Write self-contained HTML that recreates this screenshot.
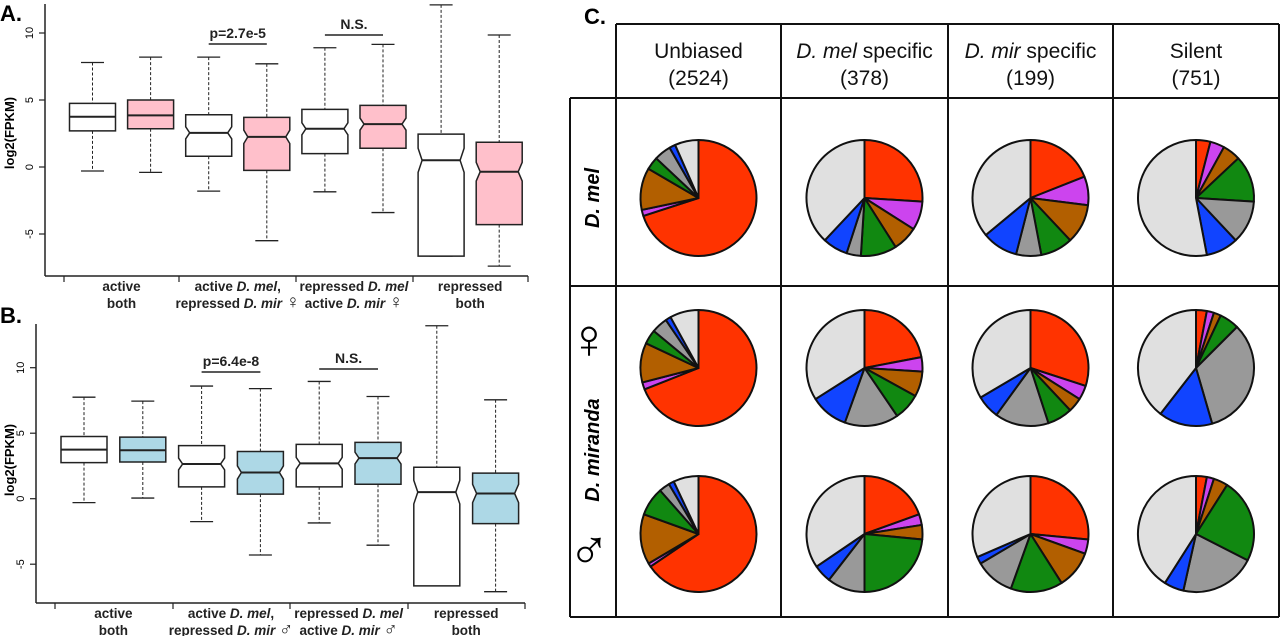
<!DOCTYPE html>
<html><head><meta charset="utf-8">
<style>
html,body{margin:0;padding:0;background:#fff;}
svg{display:block;font-family:"Liberation Sans",sans-serif;}
</style></head>
<body>
<svg id="fig" width="1280" height="636" viewBox="0 0 1280 636" xmlns="http://www.w3.org/2000/svg">
  <text x="0" y="21" font-size="22" font-weight="bold">A.</text>
  <text x="0" y="323" font-size="22" font-weight="bold">B.</text>
  <text x="584" y="24" font-size="22" font-weight="bold">C.</text>
  <g id="panelA"></g>
  <g id="panelB"></g>
  <g id="panelC"></g>
</svg>
<script>
// ---------- Box plot data ----------
const groupLabels1 = ["active", "active D. mel,", "repressed D. mel", "repressed"];
const groupLabelsA2 = ["both", "repressed D. mir \u2640", "active D. mir \u2640", "both"];
const groupLabelsB2 = ["both", "repressed D. mir \u2642", "active D. mir \u2642", "both"];
const yTicks = [-5, 0, 5, 10];
// A (female)
const aHigh = [7.8, 8.2, 8.2, 7.7, 8.9, 9.15, 12.1, 9.85];
const aQ3   = [4.75, 5.0, 3.9, 3.7, 4.3, 4.6, 2.45, 1.85];
const aMed  = [3.75, 3.85, 2.55, 2.25, 2.85, 3.2, 0.5, -0.35];
const aQ1   = [2.7, 2.85, 0.8, -0.25, 1.0, 1.4, -6.65, -4.3];
const aLow  = [-0.3, -0.4, -1.8, -5.5, -1.85, -3.4, -6.65, -7.4];
const aNotch = [0.05, 0.05, 0.45, 0.5, 0.45, 0.45, 0.9, 0.7];
// B (male)
const bHigh = [7.75, 7.45, 8.6, 8.4, 8.95, 7.8, 13.2, 7.55];
const bQ3   = [4.75, 4.7, 4.05, 3.6, 4.15, 4.3, 2.4, 1.95];
const bMed  = [3.75, 3.7, 2.65, 2.0, 2.7, 3.1, 0.5, 0.4];
const bQ1   = [2.75, 2.8, 0.9, 0.35, 0.9, 1.1, -6.65, -1.9];
const bLow  = [-0.3, 0.05, -1.75, -4.3, -1.85, -3.55, -6.65, -7.1];
const bNotch = [0.05, 0.05, 0.45, 0.5, 0.45, 0.45, 0.9, 0.7];

const NS = "http://www.w3.org/2000/svg";
function mk(tag, attrs, parent){
  const e = document.createElementNS(NS, tag);
  for (const k in attrs) e.setAttribute(k, attrs[k]);
  parent.appendChild(e);
  return e;
}
function fmtLabel(s){
  return s.replace(/(D\. m\w+)/, '<tspan font-style="italic">$1</tspan>')
          .replace(/([\u2640\u2642])/, '<tspan font-size="19" font-weight="bold">$1</tspan>');
}

function boxPanel(g, cfg, high, q3, med, q1, low, notch, fill, lab2){
  const y = v => cfg.y0 - cfg.k * v;
  const x = i => cfg.x0 + cfg.dx * i;
  const ax = mk('line', {x1:cfg.axX, x2:cfg.axX, y1:cfg.axTop, y2:cfg.axBot, stroke:'#222', 'stroke-width':1.5}, g);
  
  
  yTicks.forEach(t => {
    const tl = mk('line', {x1:cfg.axX-6, x2:cfg.axX, y1:y(t), y2:y(t), stroke:'#222', 'stroke-width':1.2}, g);
    
    
    const tt = mk('text', {x:cfg.axX-12, y:y(t), 'font-size':11, 'text-anchor':'middle', transform:`rotate(-90 ${cfg.axX-12} ${y(t)})`}, g);
    tt.textContent = t;
    
    
  });
  const yt = mk('text', {x:14, y:cfg.titleY, 'font-size':13, 'font-weight':'bold', 'text-anchor':'middle', transform:`rotate(-90 14 ${cfg.titleY})`}, g);
  yt.textContent = 'log2(FPKM)';
  
  
  const xa = mk('line', {x1:cfg.xTicks[0], x2:cfg.xTicks[4], y1:cfg.axBot, y2:cfg.axBot, stroke:'#222', 'stroke-width':1.5}, g);
  
  
  const yaxLine = mk('line', {x1:cfg.axX, x2:cfg.xTicks[0], y1:cfg.axBot, y2:cfg.axBot, stroke:'#222', 'stroke-width':1.5}, g);
  
  
  cfg.xTicks.forEach(tx => {
    const t = mk('line', {x1:tx, x2:tx, y1:cfg.axBot, y2:cfg.axBot+6, stroke:'#222', 'stroke-width':1.2}, g);
    
    
  });
  for (let j = 0; j < 4; j++){
    const cx = (x(2*j) + x(2*j+1)) / 2;
    const l1 = mk('text', {x:cx, y:cfg.axBot+15, 'font-size':13.5, 'font-weight':'bold', 'text-anchor':'middle', fill:'#222'}, g);
    l1.innerHTML = fmtLabel(groupLabels1[j]);
    
    
    const l2 = mk('text', {x:cx, y:cfg.axBot+32, 'font-size':13.5, 'font-weight':'bold', 'text-anchor':'middle', fill:'#222'}, g);
    l2.innerHTML = fmtLabel(lab2[j]);
    
    
  }
  const hw = 23;
  for (let i = 0; i < high.length; i++){
    const cx = x(i);
    const box = mk('g', {}, g);
    
    
    mk('line', {x1:cx, x2:cx, y1:y(high[i]), y2:y(q3[i]), stroke:'#222', 'stroke-dasharray':'3,2'}, box);
    mk('line', {x1:cx, x2:cx, y1:y(q1[i]), y2:y(low[i]), stroke:'#222', 'stroke-dasharray':'3,2'}, box);
    mk('line', {x1:cx-hw/2, x2:cx+hw/2, y1:y(high[i]), y2:y(high[i]), stroke:'#222', 'stroke-width':1.3}, box);
    mk('line', {x1:cx-hw/2, x2:cx+hw/2, y1:y(low[i]), y2:y(low[i]), stroke:'#222', 'stroke-width':1.3}, box);
    const ni = notch[i] > 0.2 ? 4 : 0;
    const nt = y(med[i] + notch[i]), nb = y(med[i] - notch[i]);
    const pts = [[cx-hw, y(q3[i])], [cx+hw, y(q3[i])], [cx+hw, nt], [cx+hw-ni, y(med[i])], [cx+hw, nb], [cx+hw, y(q1[i])],
                 [cx-hw, y(q1[i])], [cx-hw, nb], [cx-hw+ni, y(med[i])], [cx-hw, nt]];
    mk('polygon', {points: pts.map(p => p.join(',')).join(' '), fill: i%2 ? fill : '#fff', stroke:'#222', 'stroke-width':1.5}, box);
    mk('line', {x1:cx-hw+ni, x2:cx+hw-ni, y1:y(med[i]), y2:y(med[i]), stroke:'#222', 'stroke-width':2}, box);
  }
  cfg.sig.forEach(s => {
    const a = x(s.i), b = x(s.i+1);
    const sl = mk('line', {x1:a, x2:b, y1:s.ly, y2:s.ly, stroke:'#222', 'stroke-width':1.5}, g);
    
    
    const st = mk('text', {x:(a+b)/2, y:s.ly-6, 'font-size':14, 'font-weight':'bold', 'text-anchor':'middle', fill:'#222'}, g);
    st.textContent = s.t;
    
    
  });
}

boxPanel(document.getElementById('panelA'),
  {y0:167, k:13.4, x0:92.5, dx:58.1, axX:45, axTop:4, axBot:276, titleY:133, xTicks:[64,179,296,413,528],
   sig:[{i:2, ly:44, t:'p=2.7e-5'}, {i:4, ly:35, t:'N.S.'}]},
  aHigh, aQ3, aMed, aQ1, aLow, aNotch, '#ffc0cb', groupLabelsA2);
boxPanel(document.getElementById('panelB'),
  {y0:498.7, k:13.1, x0:84, dx:58.8, axX:36, axTop:324, axBot:603, titleY:460, xTicks:[55,173,290,408,525],
   sig:[{i:2, ly:372, t:'p=6.4e-8'}, {i:4, ly:369, t:'N.S.'}]},
  bHigh, bQ3, bMed, bQ1, bLow, bNotch, '#add8e6', groupLabelsB2);

// ---------- Pie data (percent, clockwise from 12 o'clock) ----------
const sliceNames = ["red", "magenta", "brown", "green", "gray", "blue", "lightgray"];
const sliceColors = ["#ff3300", "#cc44ee", "#b25f00", "#118811", "#999999", "#1144ff", "#e0e0e0"];
const colHeaders = ["Unbiased", "D. mel specific", "D. mir specific", "Silent"];
const colCounts = ["(2524)", "(378)", "(199)", "(751)"];
const melUnbiased = [70, 1.7, 11.7, 3.6, 4.7, 1.7, 6.6];
const melMelSpec  = [26, 8, 7, 10, 4, 7, 38];
const melMirSpec  = [19, 8, 11, 9, 7, 10, 36];
const melSilent   = [4, 4, 5, 13, 12, 9, 53];
const femUnbiased = [69, 2, 11, 4, 4.5, 1.5, 8];
const femMelSpec  = [22, 4, 7, 7.5, 15, 10.5, 34];
const femMirSpec  = [30, 4, 4, 7, 15, 6.5, 33.5];
const femSilent   = [3, 2, 2, 5.5, 33, 15, 39.5];
const malUnbiased = [65.5, 1, 14, 8, 3, 1.5, 7];
const malMelSpec  = [19.5, 3, 4, 23.5, 10.5, 5, 34.5];
const malMirSpec  = [26.5, 4, 10.5, 14.5, 11, 2, 31.5];
const malSilent   = [3, 2, 4, 23.5, 21, 5.5, 41];
const pieRows = [[melUnbiased, melMelSpec, melMirSpec, melSilent],
                 [femUnbiased, femMelSpec, femMirSpec, femSilent],
                 [malUnbiased, malMelSpec, malMirSpec, malSilent]];

const gC = document.getElementById('panelC');
const colX = [616, 781, 948, 1113, 1279];
const pieCY = [198, 368, 534];
const R = 58;
[[616,24,1279,24],[570,98,1279,98],[570,286,1279,286],[570,617,1279,617],[570,98,570,617],
 [616,24,616,617],[781,24,781,617],[948,24,948,617],[1113,24,1113,617],[1279,24,1279,617]].forEach(l => {
  const ln = mk('line', {x1:l[0], y1:l[1], x2:l[2], y2:l[3], stroke:'#111', 'stroke-width':2}, gC);
  
  
});
for (let c = 0; c < 4; c++){
  const cx = (colX[c] + colX[c+1]) / 2;
  const h = mk('text', {x:cx, y:58, 'font-size':21, 'text-anchor':'middle', fill:'#111'}, gC);
  h.innerHTML = colHeaders[c].replace(/(D\. m\w+)/, '<tspan font-style="italic">$1</tspan>');
  
  
  const n = mk('text', {x:cx, y:85, 'font-size':21, 'text-anchor':'middle', fill:'#111'}, gC);
  n.textContent = colCounts[c];
  
  
}
const rl1 = mk('text', {x:599, y:198, 'font-size':20, 'font-weight':'bold', 'font-style':'italic', 'text-anchor':'middle', transform:'rotate(-90 599 198)'}, gC);
rl1.textContent = 'D. mel';


const rl2 = mk('text', {x:599, y:450, 'font-size':20, 'font-weight':'bold', 'font-style':'italic', 'text-anchor':'middle', transform:'rotate(-90 599 450)'}, gC);
rl2.textContent = 'D. miranda';


const fs = mk('text', {x:589, y:358, 'font-size':56, 'font-weight':'bold', 'text-anchor':'middle'}, gC);
fs.textContent = '\u2640';


const ms = mk('text', {x:589, y:567, 'font-size':56, 'font-weight':'bold', 'text-anchor':'middle'}, gC);
ms.textContent = '\u2642';



function angPt(cx, cy, a){ return [cx + R*Math.sin(a), cy - R*Math.cos(a)]; }
for (let r = 0; r < 3; r++){
  for (let c = 0; c < 4; c++){
    const vals = pieRows[r][c];
    const tot = vals.reduce((s,v) => s+v, 0);
    const cx = (colX[c] + colX[c+1]) / 2, cy = pieCY[r];
    const pg = mk('g', {}, gC);
    
    
    let a0 = 0;
    vals.forEach((v, k) => {
      const a1 = a0 + v / tot * 2 * Math.PI;
      const p0 = angPt(cx, cy, a0), p1 = angPt(cx, cy, a1);
      const large = (a1 - a0) > Math.PI ? 1 : 0;
      const s = mk('path', {d:`M${cx},${cy} L${p0[0]},${p0[1]} A${R},${R} 0 ${large} 1 ${p1[0]},${p1[1]} Z`,
        fill:sliceColors[k], stroke:'#111', 'stroke-width':2, 'stroke-linejoin':'round'}, pg);
      
      
      a0 = a1;
    });
  }
}
</script>
</body></html>
